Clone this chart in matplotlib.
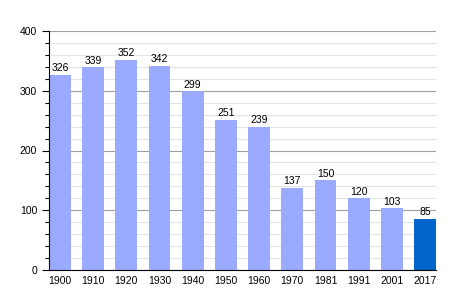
import matplotlib
matplotlib.use("Agg")
import matplotlib.pyplot as plt
import numpy as np

years = ["1900", "1910", "1920", "1930", "1940", "1950", "1960", "1970", "1981", "1991", "2001", "2017"]
population = [326, 339, 352, 342, 299, 251, 239, 137, 150, 120, 103, 85]
bar_colors = ["#99aaff"] * 11 + ["#0066cc"]

plt.rcParams['font.family'] = ['Liberation Sans', 'DejaVu Sans']

fig = plt.figure(figsize=(4.64, 3.0), dpi=100)
ax = fig.add_axes([49/464, 30/300, (436-49)/464, (270-31)/300])

x = np.arange(len(years))
w = 0.66
ax.bar(x, population, width=w, color=bar_colors, zorder=3)
for xi, v in zip(x, population):
    ax.text(xi, v + 3, str(v), ha='center', va='bottom', fontsize=7.5, color='black', zorder=4)

ax.set_xlim(-w/2, len(years) - 1 + w/2)
ax.set_ylim(0, 400)
ax.set_xticks(x)
ax.set_xticklabels(years, fontsize=7.5)
ax.set_yticks(np.arange(0, 401, 100))
ax.set_yticks(np.arange(0, 401, 20), minor=True)
ax.tick_params(axis='y', which='major', labelsize=7.5, length=5, width=0.8)
ax.tick_params(axis='y', which='minor', length=3, width=0.8)
ax.tick_params(axis='x', length=0, pad=4)
ax.grid(axis='y', which='minor', color='#e4e4e4', linewidth=0.8, zorder=0)
ax.grid(axis='y', which='major', color='#a0a0a0', linewidth=0.8, zorder=1)
for s in ['top', 'right']:
    ax.spines[s].set_visible(False)
ax.spines['left'].set_color('black')
ax.spines['bottom'].set_color('black')
ax.spines['left'].set_zorder(5)
ax.spines['bottom'].set_zorder(5)

fig.savefig("out.png", dpi=100)
